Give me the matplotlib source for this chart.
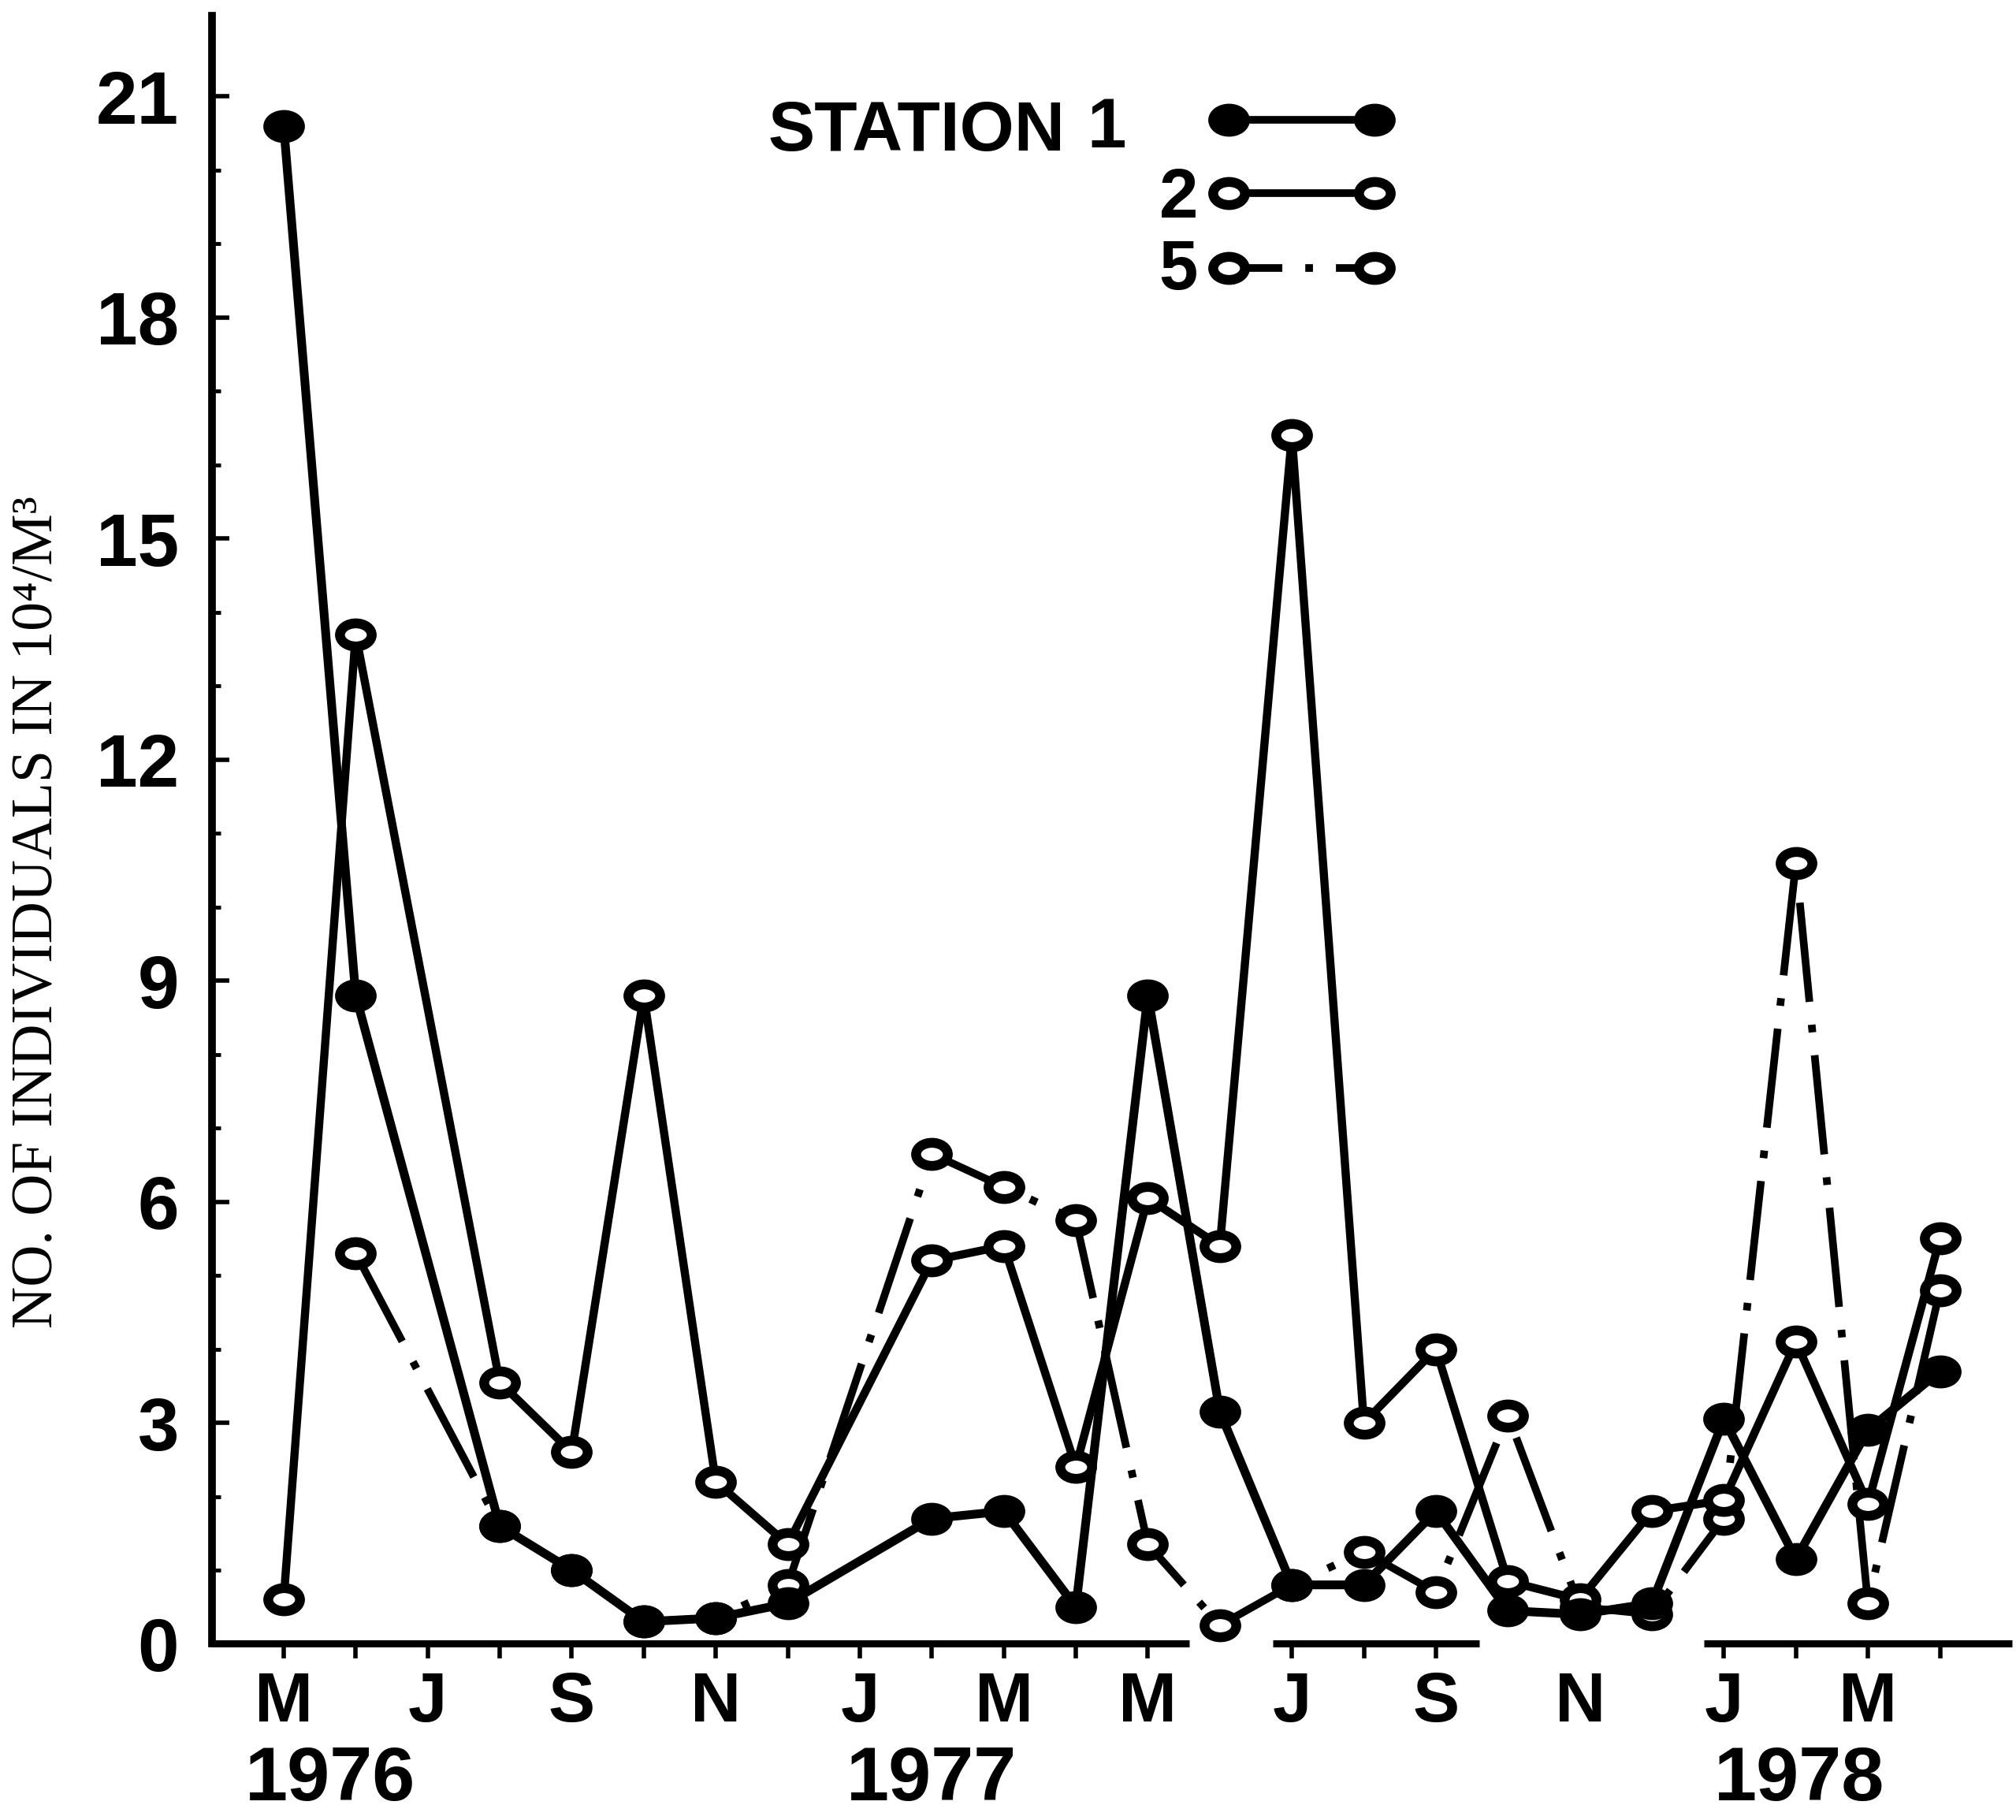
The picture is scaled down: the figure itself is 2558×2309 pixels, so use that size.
import numpy as np
import matplotlib
matplotlib.use("Agg")
import matplotlib.pyplot as plt
from matplotlib.path import Path
from matplotlib.transforms import Affine2D, blended_transform_factory

nan = np.nan

# monthly samples, May 1976 .. Apr 1978 (index 0..23)
month_labels = ["M", "", "J", "", "S", "", "N", "", "J", "", "M", "",
                "M", "", "J", "", "S", "", "N", "", "J", "", "M", ""]
years = ["1976", "1977", "1978"]
year_pos = [0.65, 9.0, 21.05]

station1 = [20.6, 8.8, nan, 1.6, 1.0, 0.3, 0.35, 0.55, nan, 1.7, 1.8, 0.5,
            8.8, 3.15, 0.8, 0.8, 1.8, 0.45, 0.4, 0.55, 3.05, 1.15, 2.9, 3.7]
station2 = [0.6, 13.7, nan, 3.55, 2.6, 8.8, 2.2, 1.35, nan, 5.2, 5.4, 2.4,
            6.05, 5.4, 16.4, 3.0, 4.0, 0.85, 0.6, 1.8, 1.95, 4.1, 1.9, 5.5]
station5 = [nan, 5.3, nan, 1.6, 1.0, 0.3, 0.35, 0.8, nan, 6.65, 6.2, 5.75,
            1.35, 0.25, 0.8, 1.25, 0.7, 3.1, 0.5, 0.4, 1.7, 10.6, 0.55, 4.8]

plt.rcParams["font.family"] = ["Liberation Sans", "DejaVu Sans"]
plt.rcParams["font.weight"] = "bold"

ELL = Path.unit_circle().transformed(Affine2D().scale(1.375, 1.0))
DASHDOT = (13, 3, 1, 3)


def series(vals):
    y = np.asarray(vals, dtype=float)
    x = np.arange(len(y))
    ok = ~np.isnan(y)
    return x[ok], y[ok]


fig = plt.figure(figsize=(25.58, 23.09), dpi=100)
ax = fig.add_axes([0.105, 0.0968, 0.893, 0.8947])
ax.set_xlim(-1, 24)
ax.set_ylim(0, 22.1)

mk = dict(marker=ELL, ms=29, mew=9, mec="black", color="black")
x5, y5 = series(station5)
ax.plot(x5, y5, lw=7, dashes=DASHDOT, mfc="white", **mk)
x2, y2 = series(station2)
ax.plot(x2, y2, lw=7.5, mfc="white", **mk)
x1, y1 = series(station1)
ax.plot(x1, y1, lw=8, mfc="black", **mk)

# axes
for side in ("top", "right", "bottom"):
    ax.spines[side].set_visible(False)
ax.spines["left"].set_linewidth(7)
for a, b in [(-1, 12.58), (13.74, 16.6), (19.72, 24.0)]:
    ax.plot([a, b], [0, 0], color="black", lw=6.5, solid_capstyle="butt", clip_on=False)

ax.set_yticks(range(0, 22, 3))
ax.set_yticks(range(22), minor=True)
ax.tick_params(axis="y", which="major", direction="in", length=16, width=4,
               pad=30, labelsize=68)
ax.tick_params(axis="y", which="minor", direction="in", length=8, width=3.5)
ax.set_xticks(range(24), month_labels)
ax.tick_params(axis="x", direction="out", length=14, width=4, pad=10, labelsize=64)
for i in (13, 17, 18, 19):
    ax.xaxis.get_major_ticks()[i].tick1line.set_visible(False)

tr = blended_transform_factory(ax.transData, ax.transAxes)
for yr, p in zip(years, year_pos):
    ax.text(p, -0.084, yr, transform=tr, ha="center", va="center", fontsize=70)

# hand-drawn style legend
ax.text(0.309, 0.928, "STATION", transform=ax.transAxes, ha="left", va="center",
        fontsize=64)
for lab, tx, ty, ly, face, dd in [("1", 0.497, 0.930, 0.936, "black", None),
                                  ("2", 0.537, 0.887, 0.891, "white", None),
                                  ("5", 0.537, 0.843, 0.845, "white", (7, 3, 1, 3))]:
    ax.text(tx, ty, lab, transform=ax.transAxes, ha="center", va="center", fontsize=64)
    kw = dict(lw=7, mfc=face, transform=ax.transAxes, clip_on=False, **mk)
    if dd:
        kw["dashes"] = dd
    ax.plot([0.565, 0.646], [ly, ly], **kw)

fig.text(0.019, 0.499, "NO. OF INDIVIDUALS IN 10\u2074/M\u00b3", rotation=90,
         ha="center", va="center", fontsize=53, fontweight="normal",
         family=["Liberation Serif", "DejaVu Serif"])

fig.savefig("out.png", dpi=100, facecolor="white")
